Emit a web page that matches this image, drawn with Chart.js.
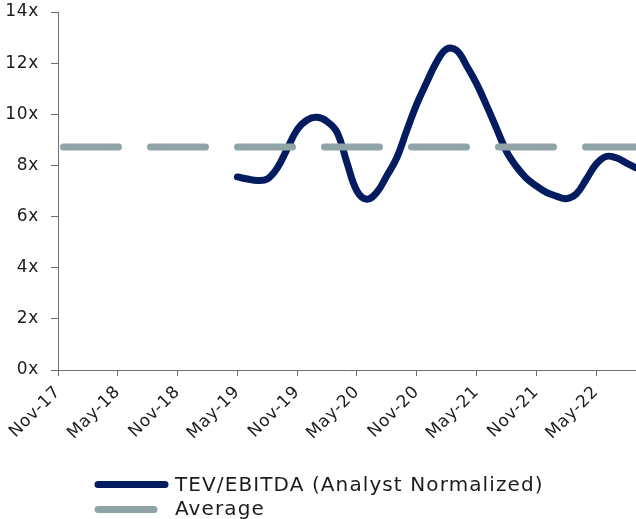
<!DOCTYPE html>
<html>
<head>
<meta charset="utf-8">
<script src="https://cdn.jsdelivr.net/npm/chart.js@4/dist/chart.umd.min.js"></script>
<style>
  html, body { margin: 0; padding: 0; background: #ffffff; }
  #wrap { width: 636px; height: 519px; position: relative; }
</style>
</head>
<body>
<div id="wrap"><canvas id="chart" width="636" height="519"></canvas></div>
<script>
// Month-end dates on the horizontal axis (Nov-17 .. Sep-22)
const months = [
  'Nov-17','Dec-17',
  'Jan-18','Feb-18','Mar-18','Apr-18','May-18','Jun-18','Jul-18','Aug-18','Sep-18','Oct-18','Nov-18','Dec-18',
  'Jan-19','Feb-19','Mar-19','Apr-19','May-19','Jun-19','Jul-19','Aug-19','Sep-19','Oct-19','Nov-19','Dec-19',
  'Jan-20','Feb-20','Mar-20','Apr-20','May-20','Jun-20','Jul-20','Aug-20','Sep-20','Oct-20','Nov-20','Dec-20',
  'Jan-21','Feb-21','Mar-21','Apr-21','May-21','Jun-21','Jul-21','Aug-21','Sep-21','Oct-21','Nov-21','Dec-21',
  'Jan-22','Feb-22','Mar-22','Apr-22','May-22','Jun-22','Jul-22','Aug-22','Sep-22'
];

// Labelled ticks, every six months
const tickLabels = ['Nov-17','May-18','Nov-18','May-19','Nov-19','May-20','Nov-20','May-21','Nov-21','May-22'];

// TEV / EBITDA multiple (analyst normalized); no coverage before May-19
const tevEbitda = [
  null, null, null, null, null, null, null, null, null, null, null, null, null, null, null, null, null, null,
  7.55, 7.47, 7.41, 7.47, 7.90, 8.65, 9.40, 9.78, 9.88, 9.72, 9.30, 8.10,
  7.00, 6.68, 6.95, 7.60, 8.30, 9.37, 10.40, 11.25, 12.05, 12.55, 12.50, 11.90,
  11.20, 10.35, 9.45, 8.55, 7.95, 7.50, 7.20, 6.95, 6.80, 6.70, 6.88, 7.45,
  8.05, 8.35, 8.30, 8.10, 7.90
];

// Period average multiple
const averageMultiple = 8.72;
const averageLine = [
  { x: 'Nov-17', y: averageMultiple },
  { x: 'Sep-22', y: averageMultiple }
];

// Y axis ticks
const yTicks = [0, 2, 4, 6, 8, 10, 12, 14];

const NAVY = '#031b5f';
const GREY = '#8fa4a7';
const AXIS = '#6e6e6e';
const TEXT = '#1c1c1c';
const FONT = "'DejaVu Sans', sans-serif";

// Slightly open tracking on the axis labels
const tracking = {
  id: 'tracking',
  beforeUpdate(chart) { chart.ctx.letterSpacing = '0.7px'; },
  beforeDraw(chart) { chart.ctx.letterSpacing = '0.7px'; }
};

// Legend drawn below the axis labels: a thick line sample followed by the label
const bottomLegend = {
  id: 'bottomLegend',
  afterDraw(chart) {
    const ctx = chart.ctx;
    const items = [
      { ds: chart.data.datasets[0], y: 484.5, base: 491, x0: 98, x1: 165 },
      { ds: chart.data.datasets[1], y: 509.5, base: 515, x0: 98, x1: 154 }
    ];
    ctx.save();
    ctx.letterSpacing = '1.1px';
    items.forEach(it => {
      ctx.beginPath();
      ctx.lineCap = 'round';
      ctx.lineWidth = 7;
      ctx.strokeStyle = it.ds.borderColor;
      ctx.setLineDash([]);
      ctx.moveTo(it.x0, it.y);
      ctx.lineTo(it.x1, it.y);
      ctx.stroke();
      ctx.fillStyle = TEXT;
      ctx.font = "20px " + FONT;
      ctx.textBaseline = 'alphabetic';
      ctx.textAlign = 'left';
      ctx.fillText(it.ds.label, 175, it.base);
    });
    ctx.restore();
  }
};

new Chart(document.getElementById('chart'), {
  type: 'line',
  data: {
    labels: months,
    datasets: [
      {
        label: 'TEV/EBITDA (Analyst Normalized)',
        data: tevEbitda,
        borderColor: NAVY,
        backgroundColor: NAVY,
        borderWidth: 7,
        borderCapStyle: 'round',
        borderJoinStyle: 'round',
        pointRadius: 0,
        tension: 0.4,
        order: 1
      },
      {
        label: 'Average',
        data: averageLine,
        borderColor: GREY,
        backgroundColor: GREY,
        borderWidth: 7,
        borderCapStyle: 'round',
        borderDash: [55, 32],
        borderDashOffset: 81.5,
        pointRadius: 0,
        tension: 0,
        order: 0
      }
    ]
  },
  options: {
    responsive: false,
    animation: false,
    layout: { padding: { top: 12, right: 0, bottom: 0, left: 0 } },
    plugins: {
      legend: { display: false },
      tooltip: { enabled: false }
    },
    scales: {
      x: {
        type: 'category',
        offset: false,
        afterFit(scale) {
          scale.height = 149;
          scale.paddingLeft = 0;
          scale.paddingRight = 0;
        },
        grid: {
          drawOnChartArea: false,
          drawTicks: true,
          tickLength: 6,
          color: AXIS,
          lineWidth: 1
        },
        border: { display: true, color: AXIS, width: 1 },
        ticks: {
          autoSkip: false,
          maxRotation: 45,
          minRotation: 45,
          padding: 6,
          color: TEXT,
          font: { family: FONT, size: 17 },
          callback(value, index) {
            const lbl = months[index];
            return tickLabels.includes(lbl) ? lbl : null;
          }
        }
      },
      y: {
        min: 0,
        max: 14,
        afterFit(scale) {
          scale.width = 58;
          scale.paddingTop = 0;
          scale.paddingBottom = 0;
        },
        afterBuildTicks(scale) { scale.ticks = yTicks.map(v => ({ value: v })); },
        grid: {
          drawOnChartArea: false,
          drawTicks: true,
          tickLength: 7,
          color: AXIS,
          lineWidth: 1
        },
        border: { display: true, color: AXIS, width: 1 },
        ticks: {
          padding: 12,
          color: TEXT,
          font: { family: FONT, size: 17 },
          callback(v) { return v + 'x'; }
        }
      }
    }
  },
  plugins: [tracking, bottomLegend]
});
</script>
</body>
</html>
